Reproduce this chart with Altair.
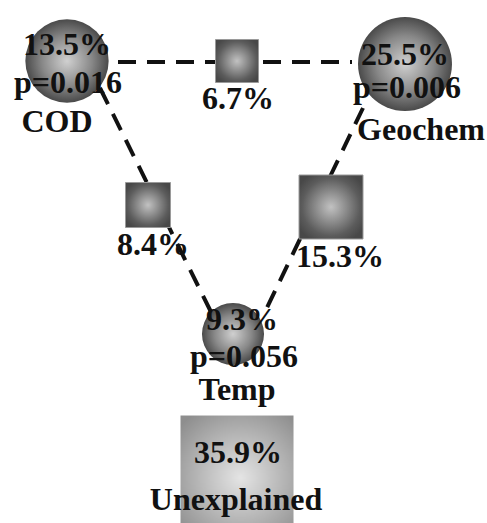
import math
import altair as alt
import pandas as pd

# Variance partitioning results
factor_names = ["COD", "Geochem", "Temp"]
factor_pct = [13.5, 25.5, 9.3]
factor_p = [0.016, 0.006, 0.056]
shared_pairs = ["COD & Geochem", "COD & Temp", "Geochem & Temp"]
shared_pct = [6.7, 8.4, 15.3]
unexplained_pct = 35.9

W, H = 487, 523

# Diagram layout (pixel space of the canvas)
factor_xy = [(67, 61), (405, 64), (233, 334)]
factor_r = [47, 53, 35]
shared_xy = [(237, 61), (148, 205), (331, 207)]
shared_side = [43, 45, 64]
unexp_xy, unexp_side = (237, 472), 113

link_ends = [((118, 62), (352, 62)), ((100, 88), (214, 318)), ((363, 108), (263, 316))]

circles = pd.DataFrame({
    "name": factor_names,
    "x": [p[0] for p in factor_xy],
    "y": [p[1] for p in factor_xy],
    "size": [math.pi * r * r for r in factor_r],
})

squares = pd.DataFrame({
    "pair": shared_pairs,
    "x": [p[0] - s / 2 for p, s in zip(shared_xy, shared_side)],
    "x2": [p[0] + s / 2 for p, s in zip(shared_xy, shared_side)],
    "y": [p[1] - s / 2 for p, s in zip(shared_xy, shared_side)],
    "y2": [p[1] + s / 2 for p, s in zip(shared_xy, shared_side)],
})

unexp = pd.DataFrame({
    "x": [unexp_xy[0] - unexp_side / 2], "x2": [unexp_xy[0] + unexp_side / 2],
    "y": [unexp_xy[1] - unexp_side / 2], "y2": [unexp_xy[1] + unexp_side / 2],
})

links = pd.DataFrame({
    "x": [a[0] for a, b in link_ends], "y": [a[1] for a, b in link_ends],
    "x2": [b[0] for a, b in link_ends], "y2": [b[1] for a, b in link_ends],
})

# Text rows: label text with its anchor (centre x, baseline y)
factor_text_pos = [
    [(67, 55), (68, 93), (57, 132)],
    [(405, 65), (407, 98), (421, 140)],
    [(242, 330), (244, 367), (237, 400)],
]
shared_text_pos = [(238, 109), (153, 255), (340, 267)]

rows = []
for name, pct, p, pos in zip(factor_names, factor_pct, factor_p, factor_text_pos):
    rows.append({"t": f"{pct:.1f}%", "x": pos[0][0], "y": pos[0][1]})
    rows.append({"t": f"p={p:.3f}", "x": pos[1][0], "y": pos[1][1]})
    rows.append({"t": name, "x": pos[2][0], "y": pos[2][1]})
for pct, pos in zip(shared_pct, shared_text_pos):
    rows.append({"t": f"{pct:.1f}%", "x": pos[0], "y": pos[1]})
rows.append({"t": f"{unexplained_pct:.1f}%", "x": 238, "y": 463})
rows.append({"t": "Unexplained", "x": 236, "y": 510})
labels = pd.DataFrame(rows)

xs = alt.Scale(domain=[0, W], nice=False, zero=False)
ys = alt.Scale(domain=[0, H], nice=False, zero=False, reverse=True)
X = alt.X("x:Q", scale=xs, axis=None)
Y = alt.Y("y:Q", scale=ys, axis=None)

sphere = alt.RadialGradient(
    gradient="radial", x1=0.5, y1=0.5, r1=0, x2=0.5, y2=0.5, r2=0.5,
    stops=[alt.GradientStop(offset=0, color="#d0d0d0"),
           alt.GradientStop(offset=0.6, color="#888888"),
           alt.GradientStop(offset=1, color="#4a4a4a")],
)
box = alt.RadialGradient(
    gradient="radial", x1=0.5, y1=0.5, r1=0, x2=0.5, y2=0.5, r2=0.6,
    stops=[alt.GradientStop(offset=0, color="#c2c2c2"),
           alt.GradientStop(offset=0.75, color="#5c5c5c"),
           alt.GradientStop(offset=1, color="#484848")],
)
pale = alt.RadialGradient(
    gradient="radial", x1=0.53, y1=0.55, r1=0, x2=0.53, y2=0.55, r2=0.7,
    stops=[alt.GradientStop(offset=0, color="#e4e4e4"),
           alt.GradientStop(offset=1, color="#8e8e8e")],
)

circle_layer = alt.Chart(circles).mark_circle(fill=sphere, opacity=1).encode(
    x=X, y=Y, size=alt.Size("size:Q", scale=None, legend=None)
)

link_layer = alt.Chart(links).mark_rule(
    color="#111111", strokeWidth=4, strokeDash=[18, 11]
).encode(x=X, y=Y, x2="x2:Q", y2="y2:Q")

square_layer = alt.Chart(squares).mark_rect(
    fill=box, stroke="#9a9a9a", strokeWidth=1
).encode(x=X, y=Y, x2="x2:Q", y2="y2:Q")

unexp_layer = alt.Chart(unexp).mark_rect(fill=pale).encode(
    x=X, y=Y, x2="x2:Q", y2="y2:Q"
)

text_layer = alt.Chart(labels).mark_text(
    font="Liberation Serif", fontWeight="bold", fontSize=32,
    align="center", baseline="alphabetic", color="#111111",
).encode(x=X, y=Y, text="t:N")

chart = alt.layer(
    circle_layer, link_layer, square_layer, unexp_layer, text_layer
).properties(
    width=W, height=H, padding=0, autosize=alt.AutoSizeParams(type="none"),
    background="white",
).configure_view(stroke=None)

chart.save("out.html", embed_options={"renderer": "svg", "actions": False})
